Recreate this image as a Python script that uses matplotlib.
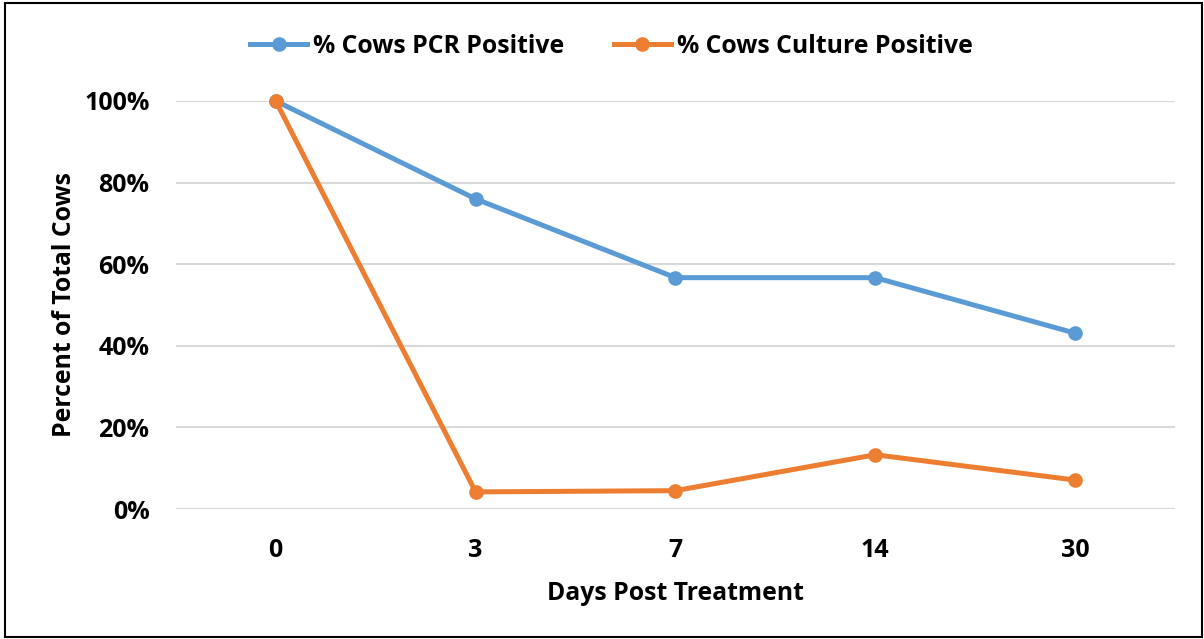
import matplotlib.pyplot as plt
from matplotlib.patches import Rectangle
from matplotlib.ticker import PercentFormatter

# Dados
dias = ['0', '3', '7', '14', '30']
pcr_positivo = [1.00, 0.76, 0.567, 0.567, 0.431]
cultura_positivo = [1.00, 0.042, 0.045, 0.133, 0.071]

azul = '#5B9BD5'
laranja = '#ED7D31'

plt.rcParams['font.family'] = ['Open Sans', 'DejaVu Sans']
plt.rcParams['font.weight'] = 'bold'

fig = plt.figure(figsize=(12.04, 6.39), dpi=100)
ax = fig.add_axes([0.146, 0.2034, 0.83, 0.6386])

x = range(len(dias))
ax.plot(x, pcr_positivo, color=azul, lw=3.6, marker='o', ms=9.5,
        label='% Cows PCR Positive', clip_on=False, zorder=3)
ax.plot(x, cultura_positivo, color=laranja, lw=3.6, marker='o', ms=9.5,
        label='% Cows Culture Positive', clip_on=False, zorder=4)

ax.set_xlim(-0.5, len(dias) - 0.5)
ax.set_ylim(0, 1.0)
ax.set_xticks(list(x))
ax.set_xticklabels(dias, fontweight='bold')
ax.set_yticks([0, 0.2, 0.4, 0.6, 0.8, 1.0])
ax.yaxis.set_major_formatter(PercentFormatter(1.0, decimals=0))
for lbl in ax.get_yticklabels():
    lbl.set_fontweight('bold')
ax.tick_params(length=0, labelsize=18, pad=19)
ax.tick_params(axis='x', pad=21)

ax.grid(axis='y', color='#D9D9D9', lw=1.5)
ax.set_axisbelow(True)
for s in ax.spines.values():
    s.set_visible(False)

ax.set_xlabel('Days Post Treatment', fontsize=17.8, fontweight='bold', labelpad=13)
ax.set_ylabel('Percent of Total Cows', fontsize=17.8, fontweight='bold', labelpad=5)

fig.legend(loc='center', bbox_to_anchor=(0.508, 0.928), ncol=2, frameon=False,
           prop={'size': 17.8, 'weight': 'bold'},
           handlelength=2.3, columnspacing=2.0, handletextpad=0.25)

# Moldura em volta da figura
fig.patches.append(Rectangle((0.004, 0.003), 0.994, 0.992, transform=fig.transFigure,
                             fill=False, edgecolor='black', lw=1.5))

fig.savefig('out.png', dpi=100)
